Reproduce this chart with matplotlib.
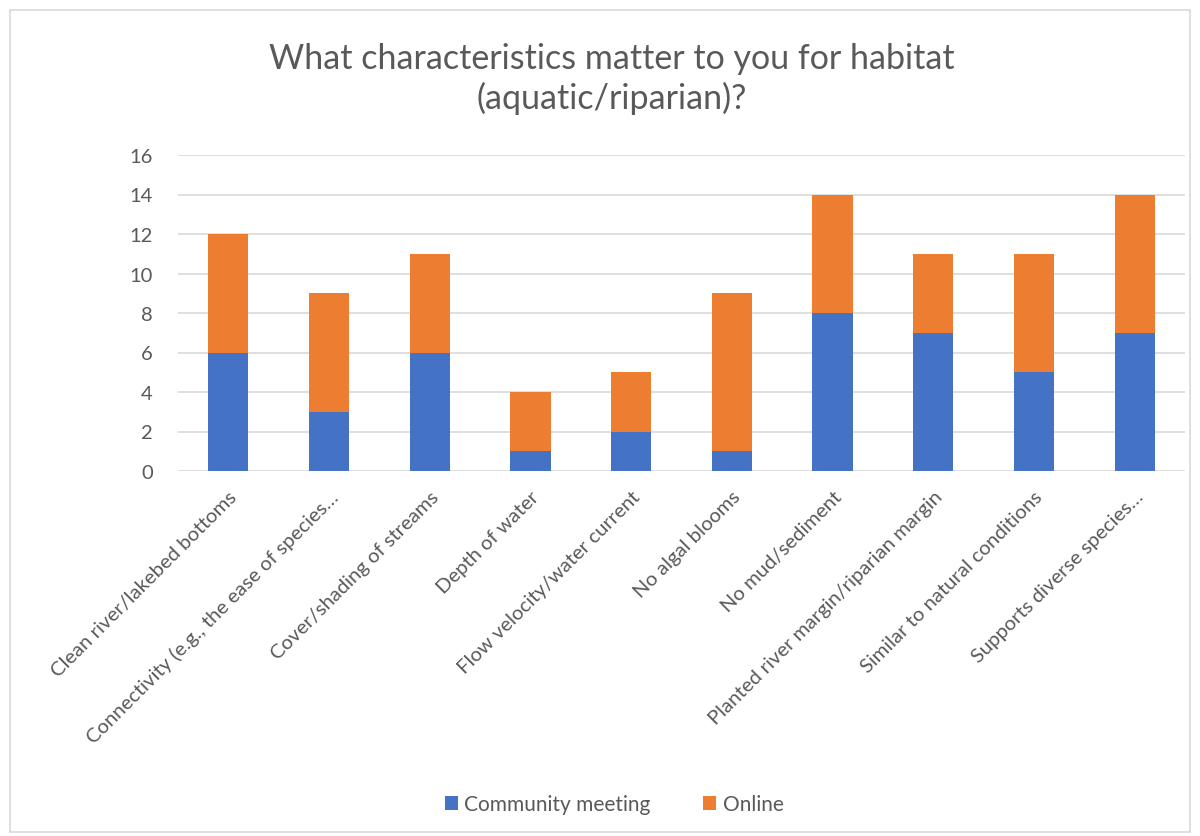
import matplotlib
matplotlib.use("Agg")
import matplotlib.pyplot as plt
from matplotlib.patches import Rectangle

categories = [
    "Clean river/lakebed bottoms",
    "Connectivity (e.g., the ease of species…",
    "Cover/shading of streams",
    "Depth of water",
    "Flow velocity/water current",
    "No algal blooms",
    "No mud/sediment",
    "Planted river margin/riparian margin",
    "Similar to natural conditions",
    "Supports diverse species…",
]
community = [6, 3, 6, 1, 2, 1, 8, 7, 5, 7]
online = [6, 6, 5, 3, 3, 8, 6, 4, 6, 7]
y_ticks = [0, 2, 4, 6, 8, 10, 12, 14, 16]
title = "What characteristics matter to you for habitat\n(aquatic/riparian)?"

plt.rcParams['font.family'] = ['Lato', 'DejaVu Sans']
text_color = "#595959"
blue = "#4472C4"
orange = "#ED7D31"

fig = plt.figure(figsize=(12, 8.37), dpi=100)
fig.patches.append(Rectangle((10/1200, 1 - 833/837), 1180/1200, (833-11)/837,
                             transform=fig.transFigure, fill=False,
                             edgecolor="#d9d9d9", linewidth=1.2))

ax = fig.add_axes([178/1200, 1 - 472/837, (1185-178)/1200, (472-156)/837])
x = list(range(len(categories)))
ax.bar(x, community, width=0.4, color=blue, label="Community meeting", zorder=3)
ax.bar(x, online, width=0.4, bottom=community, color=orange, label="Online", zorder=3)

ax.set_xlim(-0.5, len(categories) - 0.5)
ax.set_ylim(0, 16)
ax.set_yticks(y_ticks)
ax.set_yticklabels([str(v) for v in y_ticks], fontsize=14.5, color=text_color)
ax.yaxis.grid(True, color="#d9d9d9", linewidth=1.2, zorder=0)
ax.set_xticks(x)
ax.set_xticklabels(categories, rotation=45, ha="right", rotation_mode="anchor",
                   fontsize=14.6, color=text_color)
ax.tick_params(axis="both", length=0)
ax.tick_params(axis="y", pad=18)
ax.tick_params(axis="x", pad=12)
for s in ax.spines.values():
    s.set_visible(False)

fig.text(612/1200, 1 - 79/837, title, ha="center", va="center", fontsize=24.5,
         color=text_color, linespacing=1.22)

handles, labels = ax.get_legend_handles_labels()
fig.legend(handles, labels, loc="center", bbox_to_anchor=(614/1200, 1 - 805/837),
           ncol=2, frameon=False, fontsize=15, labelcolor=text_color,
           handlelength=0.65, handleheight=0.65, handletextpad=0.3, columnspacing=2.5)

fig.savefig("out.png", dpi=100)
